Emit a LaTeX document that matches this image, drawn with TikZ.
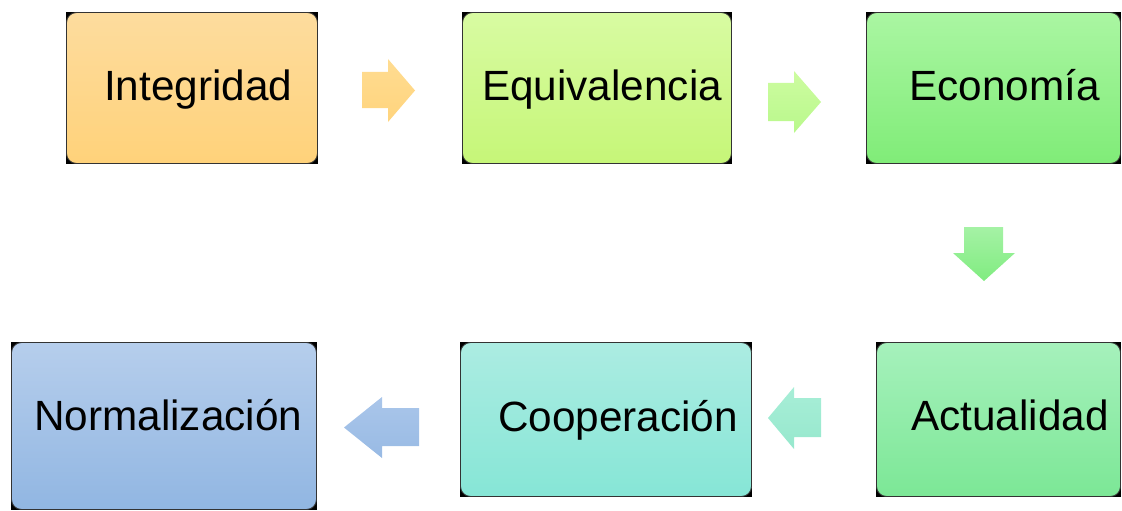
\documentclass[tikz,border=0pt]{standalone}
\usepackage{fontspec}
\setmainfont{Liberation Sans}
\usetikzlibrary{backgrounds}
\definecolor{intT}{RGB}{253,220,158}
\definecolor{intB}{RGB}{255,210,122}
\definecolor{equT}{RGB}{216,251,162}
\definecolor{equB}{RGB}{198,246,120}
\definecolor{ecoT}{RGB}{170,246,162}
\definecolor{ecoB}{RGB}{128,236,120}
\definecolor{actT}{RGB}{166,241,188}
\definecolor{actB}{RGB}{124,231,150}
\definecolor{cooT}{RGB}{172,236,226}
\definecolor{cooB}{RGB}{134,230,214}
\definecolor{norT}{RGB}{182,206,236}
\definecolor{norB}{RGB}{145,182,226}
\definecolor{ar1T}{RGB}{255,220,145}
\definecolor{ar1B}{RGB}{255,212,125}
\definecolor{ar2T}{RGB}{205,252,160}
\definecolor{ar2B}{RGB}{185,248,140}
\definecolor{ar3T}{RGB}{165,242,165}
\definecolor{ar3B}{RGB}{128,236,128}
\definecolor{ar4T}{RGB}{168,238,215}
\definecolor{ar4B}{RGB}{150,232,205}
\definecolor{ar5T}{RGB}{170,198,234}
\definecolor{ar5B}{RGB}{152,186,228}
\tikzset{
  box/.style={rectangle, rounded corners=10pt, draw=black!80, line width=0.9pt,
    shading=axis, inner sep=0pt},
  lbl/.style={anchor=base west, inner sep=0pt, font=\fontsize{42.3}{50}\selectfont},
  blockarrow/.style={draw=none, shading=axis}
}
\begin{document}
\begin{tikzpicture}[x=1pt,y=-1pt]
\useasboundingbox (0,0) rectangle (1122,511);
% boxes
\node[box, top color=intT, bottom color=intB, minimum width=251pt, minimum height=151pt] (int) at (192,88) {};
\node[box, top color=equT, bottom color=equB, minimum width=269pt, minimum height=151pt] (equ) at (597,88) {};
\node[box, top color=ecoT, bottom color=ecoB, minimum width=254pt, minimum height=151pt] (eco) at (993.5,88) {};
\node[box, top color=actT, bottom color=actB, minimum width=244pt, minimum height=154pt] (act) at (998.5,419.5) {};
\node[box, top color=cooT, bottom color=cooB, minimum width=291pt, minimum height=154pt] (coo) at (606,419.5) {};
\node[box, top color=norT, bottom color=norB, minimum width=305pt, minimum height=167pt] (nor) at (164,426) {};
\begin{scope}[on background layer]
  \foreach \n in {int,equ,eco,act,coo,nor}
    \fill[black] (\n.south west) rectangle (\n.north east);
\end{scope}
% labels
\node[lbl] (intt) at (104,100) {Integridad};
\node[lbl] (equt) at (482,100) {Equivalencia};
\node[lbl] (ecot) at (909,100) {Economía};
\node[lbl] (actt) at (911,430) {Actualidad};
\node[lbl] (coot) at (498,431) {Cooperación};
\node[lbl] (nort) at (34,430) {Normalización};
% block arrows
\path[blockarrow, top color=ar1T, bottom color=ar1B]
  (362,72) -- (388,72) -- (388,59) -- (415,90.5) -- (388,122) -- (388,108) -- (362,108) -- cycle;
\path[blockarrow, top color=ar2T, bottom color=ar2B]
  (768,83) -- (794,83) -- (794,71) -- (821,102) -- (794,133) -- (794,121) -- (768,121) -- cycle;
\path[blockarrow, top color=ar3T, bottom color=ar3B]
  (964,227) -- (1003,227) -- (1003,253) -- (1015,253) -- (984,281) -- (953,253) -- (964,253) -- cycle;
\path[blockarrow, top color=ar4T, bottom color=ar4B]
  (821,398) -- (794,398) -- (794,387) -- (768,418) -- (794,449) -- (794,437) -- (821,437) -- cycle;
\path[blockarrow, top color=ar5T, bottom color=ar5B]
  (419,408) -- (382,408) -- (382,397) -- (344,427.5) -- (382,458) -- (382,446) -- (419,446) -- cycle;
\end{tikzpicture}
\end{document}
